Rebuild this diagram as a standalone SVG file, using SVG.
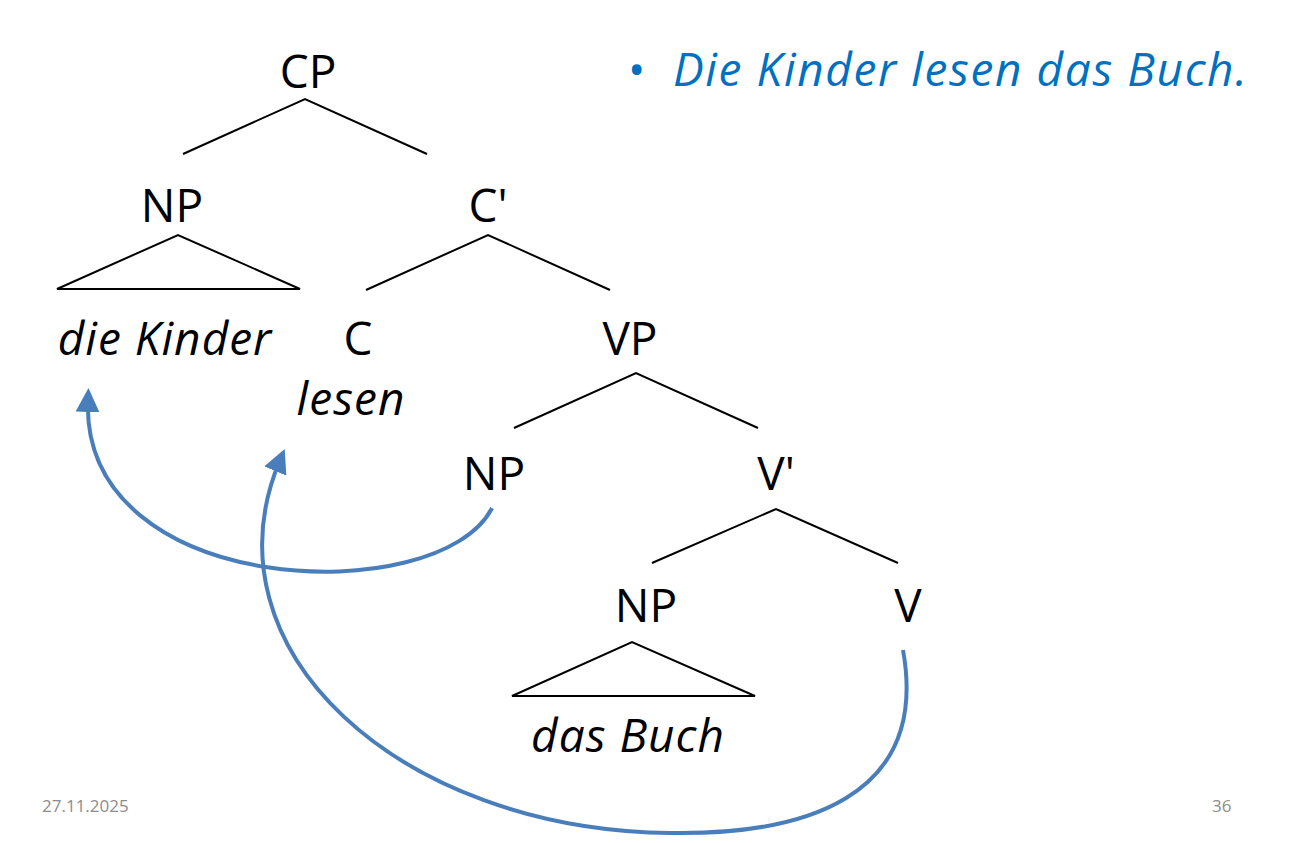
<svg xmlns="http://www.w3.org/2000/svg" width="1316" height="843" viewBox="0 0 1316 843">
<defs>
<style>
.t{font-family:"Open Sans","Liberation Sans",sans-serif;font-size:46px;fill:#000;text-anchor:middle}
.i{font-style:italic}
.l{stroke:#000;stroke-width:2;fill:none}
.a{stroke:#4a7ebb;stroke-width:4;fill:none;marker-end:url(#ah)}
.f{font-family:"Open Sans","Liberation Sans",sans-serif;font-size:17px;fill:#8c8c8c}
</style>
<marker id="ah" viewBox="0 0 10 10" refX="5" refY="5" markerWidth="6" markerHeight="6" orient="auto"><path d="M0,0L10,5L0,10z" fill="#4a7ebb"/></marker>
</defs>
<rect width="1316" height="843" fill="#fff"/>
<g id="CP"><text class="t" x="308" y="88">CP</text></g>
<g id="NP1"><text class="t" x="172" y="222">NP</text></g>
<g id="Cbar"><text class="t" x="488" y="222">C'</text></g>
<g id="dieKinder"><text class="t i" x="165" y="355" letter-spacing="1">die Kinder</text></g>
<g id="C"><text class="t" x="358" y="355">C</text><text class="t i" x="351" y="415" letter-spacing="1">lesen</text></g>
<g id="VP"><text class="t" x="630" y="355">VP</text></g>
<g id="NP2"><text class="t" x="494" y="490">NP</text></g>
<g id="Vbar"><text class="t" x="776" y="490">V'</text></g>
<g id="NP3"><text class="t" x="646" y="622">NP</text></g>
<g id="V"><text class="t" x="908" y="622">V</text></g>
<g id="dasBuch"><text class="t i" x="628" y="752" letter-spacing="1">das Buch</text></g>
<g id="sentence"><text x="628" y="86" style="font-family:'Open Sans','Liberation Sans',sans-serif;font-size:46px;fill:#0070c0"><tspan>•</tspan><tspan x="673" font-style="italic" letter-spacing="1.6">Die Kinder lesen das Buch.</tspan></text></g>
<g id="footer"><text class="f" x="42" y="812">27.11.2025</text><text class="f" x="1212" y="812">36</text></g>
<g id="connectors">
<path class="l" d="M183,154L305,99L427,154"/>
<path class="l" d="M57,289L178,235L300,289Z"/>
<path class="l" d="M366,290L488,235L610,290"/>
<path class="l" d="M514,428L636,373L758,428"/>
<path class="l" d="M652,563L776,509L898,563"/>
<path class="l" d="M512,696L632,642L755,696Z"/>
<path class="a" d="M492,508C440,610 80,600 88,400"/>
<path class="a" d="M903,650C930,800 800,835 670,833C400,830 200,650 280,460"/>
</g>
</svg>
